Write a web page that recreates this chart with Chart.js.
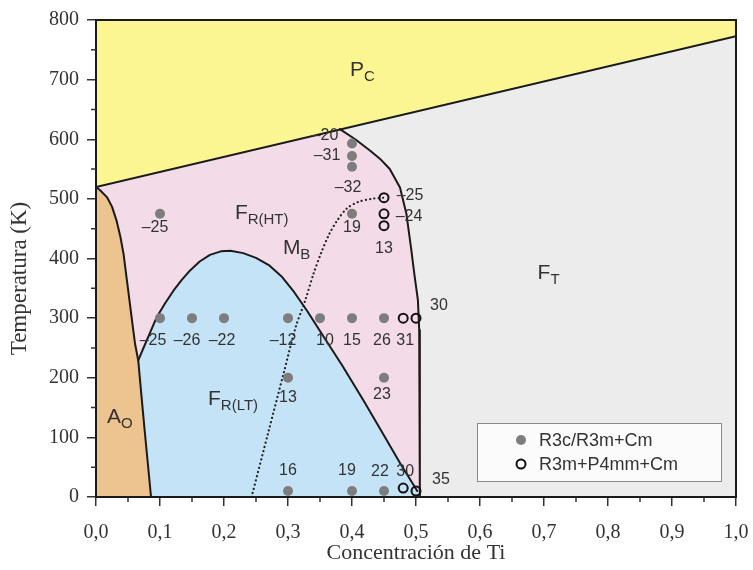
<!DOCTYPE html>
<html>
<head>
<meta charset="utf-8">
<script src="https://cdn.jsdelivr.net/npm/chart.js@4.4.0/dist/chart.umd.min.js"></script>
<style>
body { margin: 0; background: #fff; }
#wrap { width: 753px; height: 570px; }
</style>
</head>
<body>
<div id="wrap"><canvas id="diagrama" width="753" height="570"></canvas></div>
<script>
// fronteras de fase (x = concentración de Ti, y = temperatura en K)
var pcX = [0, 1];
var pcY = [520, 773];

// borde derecho de A_O (de arriba hacia abajo)
var aoX = [0, 0.006, 0.017, 0.025, 0.032, 0.038, 0.043, 0.048, 0.053, 0.057, 0.061, 0.066, 0.071, 0.076, 0.081, 0.086];
var aoY = [520, 515, 503, 487, 464, 437, 408, 366, 324, 290, 257, 229, 170, 112, 56, 0];

// arco de F_R(LT)
var ltX = [0.066, 0.075, 0.085, 0.095, 0.108, 0.121, 0.134, 0.147, 0.162, 0.178, 0.195, 0.21, 0.23, 0.25, 0.27, 0.29, 0.31, 0.33, 0.355, 0.385, 0.418, 0.45, 0.475, 0.502];
var ltY = [229, 252, 277, 302, 325, 346, 364, 380, 395, 406, 412, 413, 409, 401, 389, 370, 343, 312, 270, 220, 162, 103, 57, 10];

// frontera con F_T
var ftX = [0.381, 0.405, 0.428, 0.444, 0.459, 0.475, 0.485, 0.492, 0.498, 0.503, 0.505, 0.506, 0.506];
var ftY = [617, 600, 581, 567, 550, 519, 475, 420, 369, 330, 280, 200, 0];

// línea punteada (M_B)
var mbX = [0.243, 0.27, 0.293, 0.312, 0.327, 0.34, 0.352, 0.364, 0.377, 0.392, 0.41, 0.43, 0.45];
var mbY = [0, 112, 207, 285, 330, 375, 410, 440, 464, 484, 495, 500, 502];

// puntos R3c/R3m+Cm
var llenoX = [0.1, 0.4, 0.4, 0.4, 0.4, 0.1, 0.15, 0.2, 0.3, 0.35, 0.4, 0.45, 0.3, 0.45, 0.3, 0.4, 0.45];
var llenoY = [475, 593, 572, 554, 475, 300, 300, 300, 300, 300, 300, 300, 200, 200, 10, 10, 10];
var llenoTxt = ['–25', '–20', '–31', '–32', '19', '–25', '–26', '–22', '–12', '10', '15', '26', '13', '23', '16', '19', '22'];

// puntos R3m+P4mm+Cm
var vacioX = [0.45, 0.45, 0.45, 0.48, 0.5, 0.48, 0.5];
var vacioY = [502, 475, 455, 300, 300, 15, 10];
var vacioTxt = ['–25', '–24', '13', '31', '30', '30', '35'];

var serie1 = 'R3c/R3m+Cm';
var serie2 = 'R3m+P4mm+Cm';

// nombres de las fases
var faseTxt = ['P', 'F', 'M', 'F', 'F', 'A'];
var faseSub = ['C', 'R(HT)', 'B', 'R(LT)', 'T', 'O'];

// ---- ubicación de los textos (no son datos) ----
var faseX = [0.397, 0.217, 0.292, 0.175, 0.69, 0.017];
var faseY = [706, 467, 408, 154, 366, 124];
var llenoOff = [[-5,14],[-27,-8],[-25,0],[-4,21],[0,14],[-7,22],[-5,22],[-2,22],[-5,22],[5,22],[0,22],[-2,22],[0,20],[-2,17],[0,-20],[-5,-20],[-4,-19]];
var vacioOff = [[26,-2],[25,3],[0,23],[2,22],[23,-13],[2,-16],[25,-11]];

function pts(xs, ys) {
  return xs.map(function(x, i) { return {x: x, y: ys[i]}; });
}

var sans = '"Liberation Sans", Arial, sans-serif';
var serif = '"Liberation Serif", "Times New Roman", serif';

function poligono(data, color, order) {
  return { data: data, backgroundColor: color, borderColor: 'rgba(0,0,0,0)', borderWidth: 0,
           fill: 'shape', pointRadius: 0, tension: 0, order: order };
}
function frontera(data, order) {
  return { data: data, borderColor: '#1a1a1a', borderWidth: 2, fill: false, pointRadius: 0,
           tension: 0, order: order, borderCapStyle: 'round', borderJoinStyle: 'round' };
}

var gris = pts([0, 1, 1, 0], [0, 0, 800, 800]);
var rosa = pts([0].concat(ftX, [0]), [520].concat(ftY, [0]));
var azul = pts(ltX.concat([0.506, 0.066]), ltY.concat([0, 0]));
var naranja = pts(aoX.concat([0]), aoY.concat([0]));
var amarillo = pts(pcX.concat([1, 0]), pcY.concat([800, 800]));

// etiquetas de puntos, fases, leyenda, marco y subdivisiones
var extras = {
  id: 'extras',
  afterDatasetsDraw: function(chart) {
    var ctx = chart.ctx, xs = chart.scales.x, ys = chart.scales.y, a = chart.chartArea;
    ctx.save();
    // textos de los puntos
    ctx.font = '16px ' + sans;
    ctx.fillStyle = '#333';
    ctx.textAlign = 'center';
    ctx.textBaseline = 'middle';
    llenoTxt.forEach(function(t, i) {
      ctx.fillText(t, xs.getPixelForValue(llenoX[i]) + llenoOff[i][0], ys.getPixelForValue(llenoY[i]) + llenoOff[i][1]);
    });
    vacioTxt.forEach(function(t, i) {
      ctx.fillText(t, xs.getPixelForValue(vacioX[i]) + vacioOff[i][0], ys.getPixelForValue(vacioY[i]) + vacioOff[i][1]);
    });
    // fases
    ctx.textAlign = 'left';
    ctx.textBaseline = 'alphabetic';
    faseTxt.forEach(function(t, i) {
      var px = xs.getPixelForValue(faseX[i]), py = ys.getPixelForValue(faseY[i]);
      ctx.font = '21px ' + sans;
      ctx.fillText(t, px, py);
      var w = ctx.measureText(t).width;
      ctx.font = '15px ' + sans;
      ctx.fillText(faseSub[i], px + w, py + 5);
    });
    // marco
    ctx.strokeStyle = '#1a1a1a';
    ctx.lineWidth = 2;
    ctx.strokeRect(a.left, a.top, a.right - a.left, a.bottom - a.top);
    // subdivisiones
    ctx.lineWidth = 1.5;
    ctx.strokeStyle = '#333';
    ctx.beginPath();
    for (var v = 0.05; v < 1; v += 0.1) {
      var px = xs.getPixelForValue(v);
      ctx.moveTo(px, a.bottom); ctx.lineTo(px, a.bottom + 5);
    }
    for (var k = 50; k < 800; k += 100) {
      var py = ys.getPixelForValue(k);
      ctx.moveTo(a.left, py); ctx.lineTo(a.left - 5, py);
    }
    ctx.stroke();
    // título del eje y
    ctx.save();
    ctx.translate(20, (a.top + a.bottom) / 2 + 20);
    ctx.rotate(-Math.PI / 2);
    ctx.textAlign = 'center';
    ctx.textBaseline = 'middle';
    ctx.font = '23px ' + serif;
    ctx.fillStyle = '#333';
    ctx.fillText('Temperatura (K)', 0, 0);
    ctx.restore();
    // leyenda
    var lx = a.right - 259, ly = a.bottom - 74, lw = 244, lh = 58;
    ctx.fillStyle = '#fbfbfb';
    ctx.fillRect(lx, ly, lw, lh);
    ctx.strokeStyle = '#8a8a8a';
    ctx.lineWidth = 1;
    ctx.strokeRect(lx + 0.5, ly + 0.5, lw, lh);
    ctx.beginPath();
    ctx.arc(lx + 44, ly + 17, 5, 0, Math.PI * 2);
    ctx.fillStyle = '#7d7d7d';
    ctx.fill();
    ctx.beginPath();
    ctx.arc(lx + 44, ly + 41, 4.5, 0, Math.PI * 2);
    ctx.strokeStyle = '#111';
    ctx.lineWidth = 2;
    ctx.stroke();
    ctx.fillStyle = '#333';
    ctx.font = '18px ' + sans;
    ctx.textBaseline = 'middle';
    ctx.fillText(serie1, lx + 62, ly + 18);
    ctx.fillText(serie2, lx + 62, ly + 42);
    ctx.restore();
  }
};

var ctx = document.getElementById('diagrama');
var diagrama = new Chart(ctx, {
  type: 'line',
  data: {
    datasets: [
      poligono(gris, '#ececec', 20),
      poligono(rosa, '#f3dce8', 19),
      poligono(azul, '#c5e3f6', 18),
      poligono(naranja, '#edc48f', 17),
      poligono(amarillo, '#fbf692', 16),
      frontera(pts(pcX, pcY), 10),
      frontera(pts(aoX, aoY), 10),
      frontera(pts(ltX, ltY), 10),
      frontera(pts(ftX, ftY), 10),
      { data: pts(mbX, mbY), borderColor: '#222', borderWidth: 2.2, fill: false, pointRadius: 0,
        tension: 0.3, borderDash: [0.1, 4.2], borderCapStyle: 'round', order: 9 },
      { label: serie1, data: pts(llenoX, llenoY), showLine: false, pointRadius: 5,
        pointBackgroundColor: '#7d7d7d', pointBorderWidth: 0, order: 2 },
      { label: serie2, data: pts(vacioX, vacioY), showLine: false, pointRadius: 4.5,
        pointBackgroundColor: 'rgba(0,0,0,0)', pointBorderColor: '#111', pointBorderWidth: 2, order: 1 }
    ]
  },
  options: {
    responsive: false,
    animation: false,
    layout: { padding: { top: 18, right: 17, left: 0, bottom: 0 } },
    plugins: { legend: { display: false }, tooltip: { enabled: false } },
    scales: {
      x: {
        type: 'linear', min: 0, max: 1,
        afterFit: function(s) { s.height = 73; s.paddingLeft = 0; s.paddingRight = 0; },
        border: { display: false },
        grid: { drawOnChartArea: false, drawTicks: true, tickLength: 9, color: '#333', lineWidth: 1.5 },
        ticks: {
          stepSize: 0.1, padding: 15, color: '#333', font: { family: serif, size: 20 },
          maxRotation: 0,
          callback: function(v) { return v.toFixed(1).replace('.', ','); }
        },
        title: { display: true, text: 'Concentración de Ti', color: '#333',
                 font: { family: serif, size: 22 }, padding: { top: 0, bottom: 4 } }
      },
      y: {
        min: 0, max: 800,
        afterFit: function(s) { s.width = 96; },
        border: { display: false },
        grid: { drawOnChartArea: false, drawTicks: true, tickLength: 9, color: '#333', lineWidth: 1.5 },
        ticks: { stepSize: 100, padding: 8, color: '#333', font: { family: serif, size: 20 } }
      }
    }
  },
  plugins: [extras]
});
</script>
</body>
</html>
